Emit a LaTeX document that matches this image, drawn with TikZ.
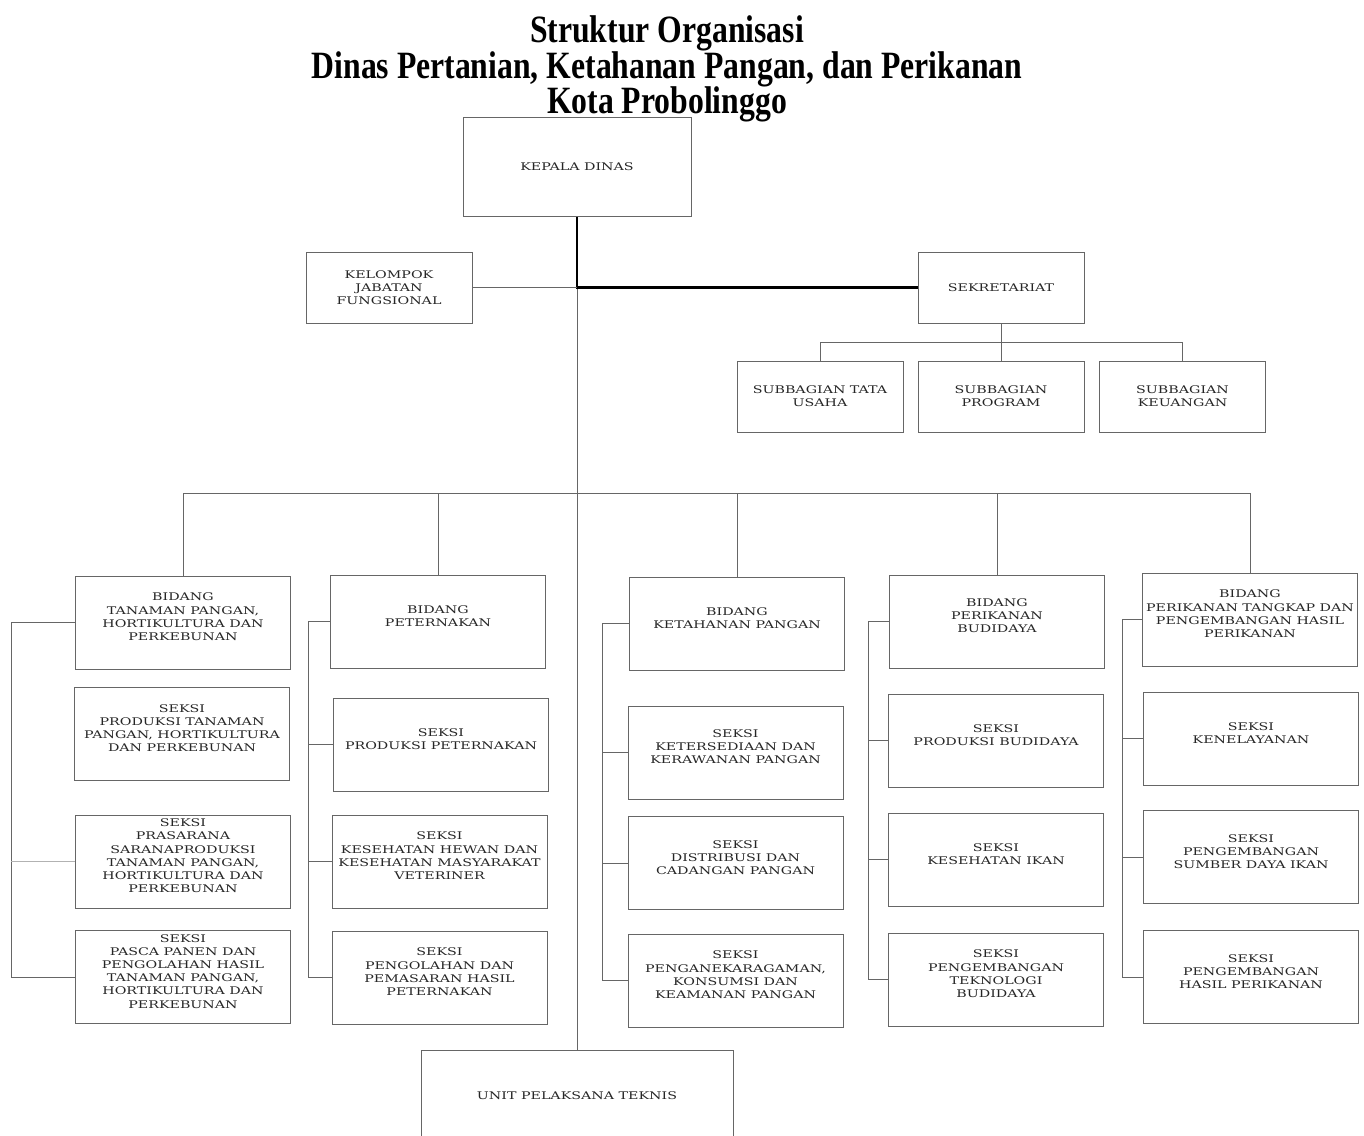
\documentclass[tikz,border=0pt]{standalone}
\usepackage{fontspec}
\setmainfont{Liberation Serif}
\newfontfamily\boxfont[FakeStretch=1.35]{DejaVu Serif}
\newfontfamily\titlefont[FakeStretch=0.82]{Liberation Serif}
\begin{document}
\begin{tikzpicture}[x=0.02cm, y=-0.02cm,
    box/.style={draw=black!60, line width=0.55pt, rectangle, align=center, inner sep=1pt,
        text=black!85, font=\boxfont\fontsize{6}{7.5}\selectfont},
    unit/.style={box, text depth=6.5pt, minimum width=4.3cm, minimum height=1.86cm},
    small/.style={box, minimum width=3.32cm, minimum height=1.42cm},
    link/.style={draw=black!60, line width=0.5pt}]
    \useasboundingbox (0,0) rectangle (1364,1135);

    \node[align=center, font=\titlefont\bfseries\fontsize{22}{20.2}\selectfont] (title) at (667,69)
        {Struktur Organisasi\\Dinas Pertanian, Ketahanan Pangan, dan Perikanan\\Kota Probolinggo};

    % pimpinan dan sekretariat
    \node[box, minimum width=4.56cm, minimum height=1.98cm] (kepala) at (577,167) {KEPALA DINAS};
    \node[small] (kelompok) at (389,287.5) {KELOMPOK\\JABATAN\\FUNGSIONAL};
    \node[small] (sekre) at (1001,287.5) {SEKRETARIAT};
    \node[small] (subtu) at (820,396.5) {SUBBAGIAN TATA\\USAHA};
    \node[small] (subprog) at (1001,396.5) {SUBBAGIAN\\PROGRAM};
    \node[small] (subkeu) at (1182.5,396.5) {SUBBAGIAN\\KEUANGAN};

    % bidang
    \node[unit] (b1) at (183,622.5) {BIDANG\\TANAMAN PANGAN,\\HORTIKULTURA DAN\\PERKEBUNAN};
    \node[unit] (b2) at (438,621.5) {BIDANG\\PETERNAKAN};
    \node[unit] (b3) at (737,623.5) {BIDANG\\KETAHANAN PANGAN};
    \node[unit] (b4) at (997,621.5) {BIDANG\\PERIKANAN\\BUDIDAYA};
    \node[unit] (b5) at (1250,619.5) {BIDANG\\PERIKANAN TANGKAP DAN\\PENGEMBANGAN HASIL\\PERIKANAN};

    % seksi
    \node[unit] (s1a) at (182,734) {SEKSI\\PRODUKSI TANAMAN\\PANGAN, HORTIKULTURA\\DAN PERKEBUNAN};
    \node[unit] (s1b) at (183,861.5) {SEKSI\\PRASARANA\\SARANAPRODUKSI\\TANAMAN PANGAN,\\HORTIKULTURA DAN\\PERKEBUNAN};
    \node[unit] (s1c) at (183,977) {SEKSI\\PASCA PANEN DAN\\PENGOLAHAN HASIL\\TANAMAN PANGAN,\\HORTIKULTURA DAN\\PERKEBUNAN};
    \node[unit] (s2a) at (441,744.5) {SEKSI\\PRODUKSI PETERNAKAN};
    \node[unit] (s2b) at (439.5,861.5) {SEKSI\\KESEHATAN HEWAN DAN\\KESEHATAN MASYARAKAT\\VETERINER};
    \node[unit] (s2c) at (439.5,977.5) {SEKSI\\PENGOLAHAN DAN\\PEMASARAN HASIL\\PETERNAKAN};
    \node[unit] (s3a) at (735.5,752.5) {SEKSI\\KETERSEDIAAN DAN\\KERAWANAN PANGAN};
    \node[unit] (s3b) at (735.5,863) {SEKSI\\DISTRIBUSI DAN\\CADANGAN PANGAN};
    \node[unit] (s3c) at (735.5,980.5) {SEKSI\\PENGANEKARAGAMAN,\\KONSUMSI DAN\\KEAMANAN PANGAN};
    \node[unit] (s4a) at (996,740.5) {SEKSI\\PRODUKSI BUDIDAYA};
    \node[unit] (s4b) at (996,859.5) {SEKSI\\KESEHATAN IKAN};
    \node[unit] (s4c) at (996,979.5) {SEKSI\\PENGEMBANGAN\\TEKNOLOGI\\BUDIDAYA};
    \node[unit] (s5a) at (1251,738.5) {SEKSI\\KENELAYANAN};
    \node[unit] (s5b) at (1251,857) {SEKSI\\PENGEMBANGAN\\SUMBER DAYA IKAN};
    \node[unit] (s5c) at (1251,977) {SEKSI\\PENGEMBANGAN\\HASIL PERIKANAN};

    \node[box, minimum width=6.24cm, minimum height=1.84cm] (upt) at (577,1096) {UNIT PELAKSANA TEKNIS};

    % garis
    \coordinate (bidbus) at (577,493);
    \coordinate (c1) at (11,0);
    \coordinate (c2) at (308,0);
    \coordinate (c3) at (602,0);
    \coordinate (c4) at (868,0);
    \coordinate (c5) at (1122,0);

    \draw[link] (kepala.south) -- (upt.north);
    \draw[link, draw=black, line width=1.2pt] (kepala.south) -- (kepala.south |- sekre.west) -- (sekre.west);
    \draw[link] (kelompok.east) -- (kelompok.east -| kepala.south);
    \draw[link] (sekre.south) -- (subprog.north);
    \draw[link] (subtu.north) -- ++(0,-18) -| (subkeu.north);

    \draw[link] (b1.north) -- (b1.north |- bidbus) -| (b5.north);
    \draw[link] (b2.north) -- (b2.north |- bidbus);
    \draw[link] (b3.north) -- (b3.north |- bidbus);
    \draw[link] (b4.north) -- (b4.north |- bidbus);

    \draw[link] (b1.west) -| (c1 |- s1c.west) -- (s1c.west);
    \draw[link, draw=black!30] (s1b.west) -- (s1b.west -| c1);

    \draw[link] (b2.west) -| (c2 |- s2c.west) -- (s2c.west);
    \draw[link] (s2a.west) -- (s2a.west -| c2);
    \draw[link] (s2b.west) -- (s2b.west -| c2);

    \draw[link] (b3.west) -| (c3 |- s3c.west) -- (s3c.west);
    \draw[link] (s3a.west) -- (s3a.west -| c3);
    \draw[link] (s3b.west) -- (s3b.west -| c3);

    \draw[link] (b4.west) -| (c4 |- s4c.west) -- (s4c.west);
    \draw[link] (s4a.west) -- (s4a.west -| c4);
    \draw[link] (s4b.west) -- (s4b.west -| c4);

    \draw[link] (b5.west) -| (c5 |- s5c.west) -- (s5c.west);
    \draw[link] (s5a.west) -- (s5a.west -| c5);
    \draw[link] (s5b.west) -- (s5b.west -| c5);
\end{tikzpicture}
\end{document}
